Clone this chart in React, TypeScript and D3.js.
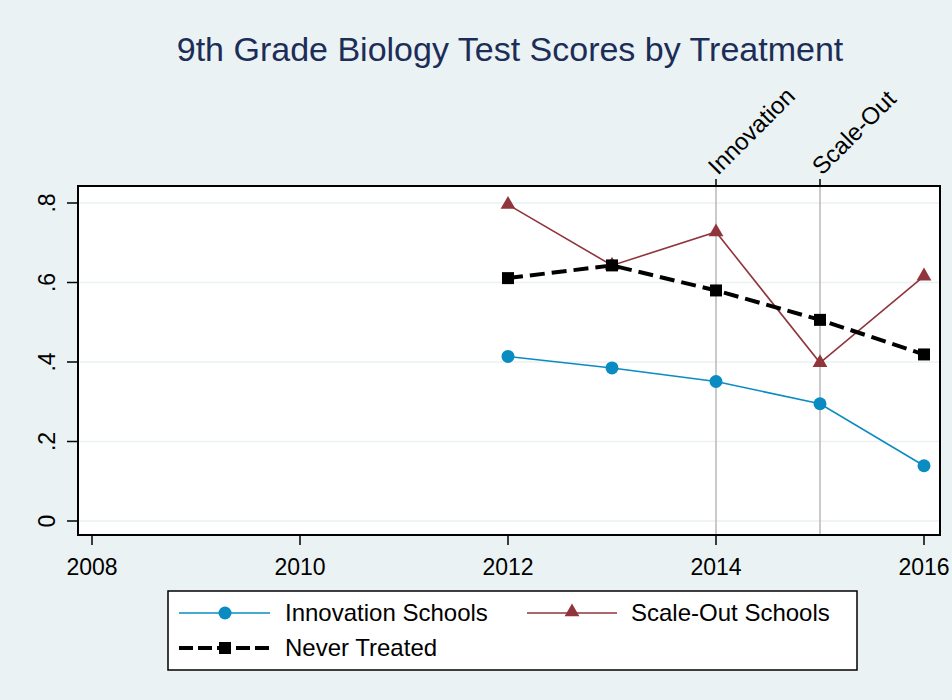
import React from "react";
import * as d3 from "d3";

const years = [2012, 2013, 2014, 2015, 2016];
const innovation = [0.414, 0.385, 0.351, 0.295, 0.139];
const scaleOut = [0.796, 0.643, 0.727, 0.398, 0.616];
const neverTreated = [0.611, 0.643, 0.58, 0.506, 0.419];

const xTicks = [2008, 2010, 2012, 2014, 2016];
const yTicks = [0, 0.2, 0.4, 0.6, 0.8];
const yTickLabels = ["0", ".2", ".4", ".6", ".8"];
const events = [
  { year: 2014, label: "Innovation" },
  { year: 2015, label: "Scale-Out" },
];

const BG = "#eaf2f3";
const BLUE = "#0a8bc2";
const MAROON = "#90353b";
const NAVY = "#1c2d57";
const FONT = "Liberation Sans, Arial, sans-serif";

export default function App() {
  const frame = { left: 78, right: 940, top: 186, bottom: 535 };
  const x = d3.scaleLinear().domain([2008, 2016]).range([92, 924]);
  const y = d3.scaleLinear().domain([0, 0.8]).range([521, 203]);

  const lineGen = d3
    .line<number>()
    .x((d, i) => x(years[i]))
    .y((d) => y(d));

  const tri = d3.symbol().type(d3.symbolTriangle).size(95)();
  const sq = d3.symbol().type(d3.symbolSquare).size(144)();

  return (
    <div style={{ position: "fixed", left: 0, top: 0 }}>
      <svg width={952} height={700} style={{ display: "block", fontFamily: FONT }}>
        <rect width={952} height={700} fill={BG} />
        <text x={510} y={61} textAnchor="middle" fontSize={34} fill={NAVY}>
          9th Grade Biology Test Scores by Treatment
        </text>

        {/* plot region */}
        <rect
          x={frame.left}
          y={frame.top}
          width={frame.right - frame.left}
          height={frame.bottom - frame.top}
          fill="white"
        />
        {yTicks.map((t) => (
          <line
            key={"g" + t}
            x1={frame.left}
            x2={frame.right}
            y1={y(t)}
            y2={y(t)}
            stroke={BG}
            strokeWidth={1.5}
          />
        ))}

        {/* event lines */}
        {events.map((e) => (
          <g key={e.label}>
            <line x1={x(e.year)} x2={x(e.year)} y1={frame.top} y2={frame.bottom} stroke="#b8b8b8" strokeWidth={1.5} />
            <line x1={x(e.year)} x2={x(e.year)} y1={frame.top - 7} y2={frame.top} stroke="black" strokeWidth={1.5} />
            <text
              transform={`translate(${x(e.year) + 2},${frame.top - 10}) rotate(-45)`}
              fontSize={24}
              fill="black"
            >
              {e.label}
            </text>
          </g>
        ))}

        {/* series */}
        <path d={lineGen(innovation) || ""} fill="none" stroke={BLUE} strokeWidth={1.6} />
        {innovation.map((v, i) => (
          <circle key={"c" + i} cx={x(years[i])} cy={y(v)} r={6.5} fill={BLUE} />
        ))}
        <path d={lineGen(scaleOut) || ""} fill="none" stroke={MAROON} strokeWidth={1.6} />
        {scaleOut.map((v, i) => (
          <path key={"t" + i} d={tri || ""} transform={`translate(${x(years[i])},${y(v)})`} fill={MAROON} />
        ))}
        <path
          d={lineGen(neverTreated) || ""}
          fill="none"
          stroke="black"
          strokeWidth={4}
          strokeDasharray="15,7"
        />
        {neverTreated.map((v, i) => (
          <path key={"s" + i} d={sq || ""} transform={`translate(${x(years[i])},${y(v)})`} fill="black" />
        ))}

        <rect
          x={frame.left}
          y={frame.top}
          width={frame.right - frame.left}
          height={frame.bottom - frame.top}
          fill="none"
          stroke="black"
          strokeWidth={2}
        />

        {/* y axis */}
        {yTicks.map((t, i) => (
          <g key={"y" + t}>
            <line x1={frame.left - 11} x2={frame.left} y1={y(t)} y2={y(t)} stroke="black" strokeWidth={1.5} />
            <text
              transform={`translate(55,${y(t)}) rotate(-90)`}
              textAnchor="middle"
              fontSize={23}
              fill="black"
            >
              {yTickLabels[i]}
            </text>
          </g>
        ))}

        {/* x axis */}
        {xTicks.map((t) => (
          <g key={"x" + t}>
            <line x1={x(t)} x2={x(t)} y1={frame.bottom} y2={frame.bottom + 10} stroke="black" strokeWidth={1.5} />
            <text x={x(t)} y={575} textAnchor="middle" fontSize={23} fill="black">
              {t}
            </text>
          </g>
        ))}

        {/* legend */}
        <rect x={168} y={591} width={689} height={79} fill="white" stroke="black" strokeWidth={1.5} />
        <line x1={179} x2={270} y1={613} y2={613} stroke={BLUE} strokeWidth={1.6} />
        <circle cx={225} cy={613} r={6.5} fill={BLUE} />
        <text x={285} y={621} fontSize={24}>Innovation Schools</text>
        <line x1={527} x2={617} y1={613} y2={613} stroke={MAROON} strokeWidth={1.6} />
        <path d={tri || ""} transform="translate(572,612)" fill={MAROON} />
        <text x={631} y={621} fontSize={24}>Scale-Out Schools</text>
        <line x1={179} x2={270} y1={648} y2={648} stroke="black" strokeWidth={4} strokeDasharray="14,5" />
        <path d={sq || ""} transform="translate(225,648)" fill="black" />
        <text x={285} y={656} fontSize={24}>Never Treated</text>
      </svg>
    </div>
  );
}
